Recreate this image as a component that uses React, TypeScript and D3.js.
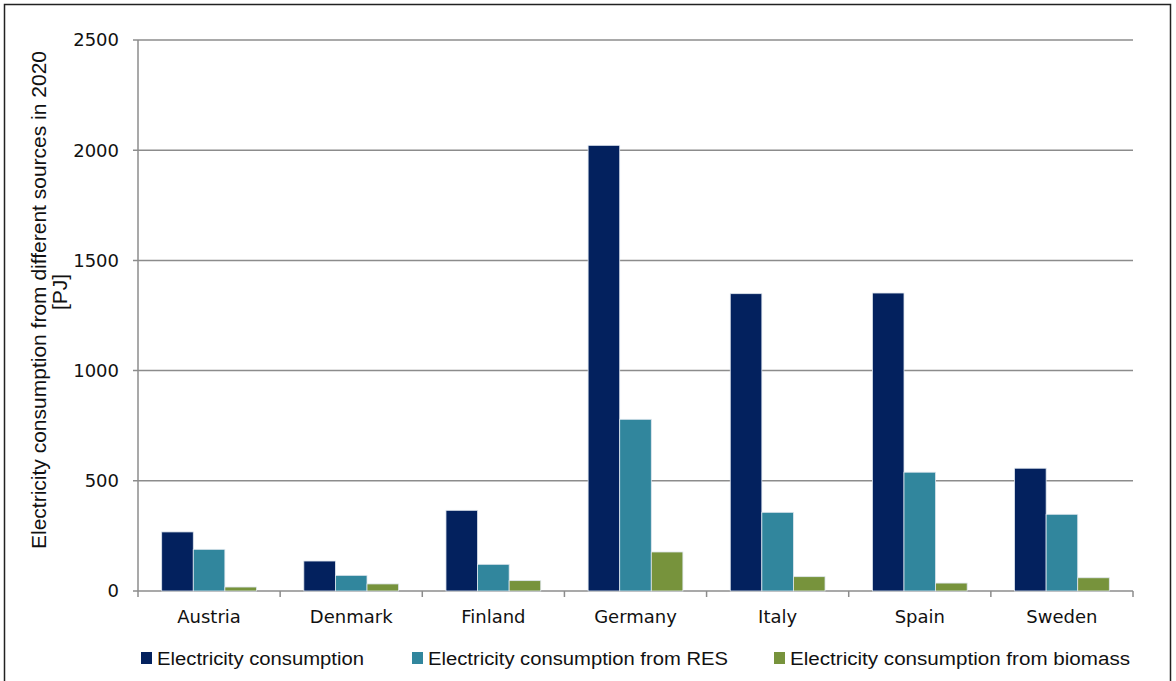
import React from "react";
import * as d3 from "d3";

const countries = ["Austria", "Denmark", "Finland", "Germany", "Italy", "Spain", "Sweden"];
const seriesNames = [
  "Electricity consumption",
  "Electricity consumption from RES",
  "Electricity consumption from biomass",
];
const consumption = [268, 136, 366, 2022, 1349, 1352, 557];
const consumptionRES = [189, 71, 121, 779, 357, 539, 348];
const consumptionBiomass = [18, 32, 47, 177, 65, 36, 60];
const yTicks = [0, 500, 1000, 1500, 2000, 2500];
const colors = ["#03215E", "#31869D", "#77933C"];

const W = 1176;
const H = 681;
const plot = { left: 138, right: 1133, top: 40, bottom: 591 };

export default function App() {
  const series = [consumption, consumptionRES, consumptionBiomass];
  const x = d3.scaleBand<string>().domain(countries).range([plot.left, plot.right]).paddingInner(0).paddingOuter(0);
  const inner = d3
    .scaleBand<number>()
    .domain([0, 1, 2])
    .range([0, x.bandwidth()])
    .paddingOuter(0.75)
    .paddingInner(0);
  const y = d3.scaleLinear().domain([0, 2500]).range([plot.bottom, plot.top]);
  const tickFont = "'DejaVu Sans', Verdana, sans-serif";
  const textFont = "'Liberation Sans', Arial, sans-serif";
  const legendX = [141, 412, 774];
  const legendTextW = [207, 300, 340];

  return (
    <svg width={W} height={H} style={{ position: "absolute", left: 0, top: 0 }} fontFamily={textFont}>
      <rect x={0} y={0} width={W} height={H} fill="#fff" />
      <rect x={4.5} y={4.5} width={1166} height={H + 10} fill="none" stroke="#222" strokeWidth={1.5} />

      {/* gridlines and y ticks */}
      {yTicks.map((t) => (
        <g key={t}>
          <line x1={plot.left - 5} x2={plot.right} y1={y(t)} y2={y(t)} stroke="#8c8c8c" strokeWidth={1.5} />
          <text x={119} y={y(t)} dy="0.35em" textAnchor="end" fontSize={18} fill="#111" fontFamily={tickFont}>
            {t}
          </text>
        </g>
      ))}
      <line x1={plot.left} x2={plot.left} y1={plot.top} y2={plot.bottom} stroke="#8c8c8c" strokeWidth={1.5} />

      {/* x ticks */}
      {d3.range(countries.length + 1).map((i) => {
        const px = plot.left + i * x.bandwidth();
        return <line key={i} x1={px} x2={px} y1={plot.bottom} y2={plot.bottom + 6} stroke="#8c8c8c" strokeWidth={1.5} />;
      })}

      {/* bars */}
      {countries.map((c) => (
        <g key={c} transform={`translate(${x(c)},0)`}>
          {series.map((s, si) => {
            const v = s[countries.indexOf(c)];
            return (
              <rect
                key={si}
                x={inner(si)}
                y={y(v)}
                width={inner.bandwidth()}
                height={y(0) - y(v)}
                fill={colors[si]}
                stroke="#dfe6ee"
                strokeWidth={0.8}
              />
            );
          })}
          <text x={x.bandwidth() / 2} y={623} textAnchor="middle" fontSize={18} fill="#111" fontFamily={tickFont}>
            {c}
          </text>
        </g>
      ))}

      {/* y axis title */}
      <g transform="translate(46,300) rotate(-90)">
        <text x={0} y={0} textAnchor="middle" fontSize={21} fill="#111">
          Electricity consumption from different sources in 2020
        </text>
        <text x={8} y={21} textAnchor="middle" fontSize={21} fill="#111">
          [PJ]
        </text>
      </g>

      {/* legend */}
      {seriesNames.map((n, i) => (
        <g key={n} transform={`translate(${legendX[i]},0)`}>
          <rect x={0} y={652} width={11} height={12} fill={colors[i]} />
          <text
            x={16}
            y={665}
            fontSize={18}
            fill="#111"
            textLength={legendTextW[i]}
            lengthAdjust="spacingAndGlyphs"
          >
            {n}
          </text>
        </g>
      ))}
    </svg>
  );
}
